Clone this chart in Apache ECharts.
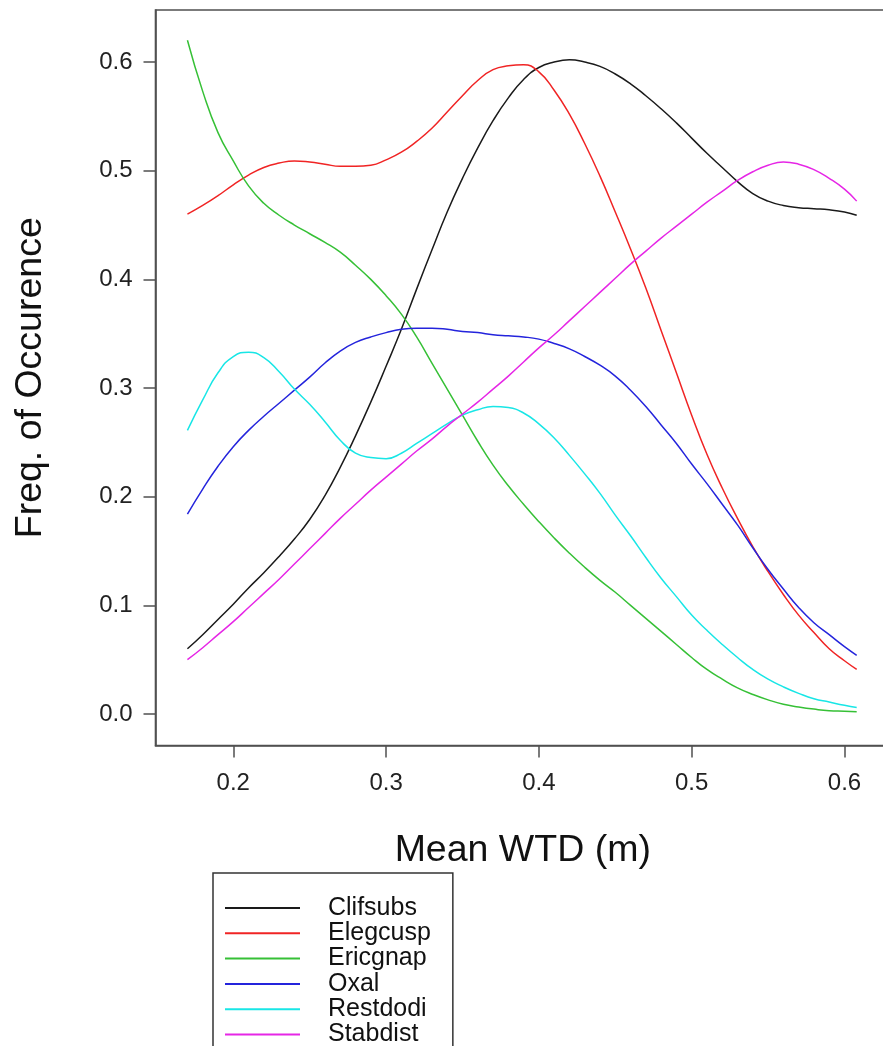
<!DOCTYPE html>
<html>
<head>
<meta charset="utf-8">
<script src="https://cdn.jsdelivr.net/npm/echarts@6/dist/echarts.min.js"></script>
<style>
html,body{margin:0;padding:0;background:#fff;overflow:hidden;width:883px;height:1046px;}
#chart{width:900px;height:1100px;}
</style>
</head>
<body>
<div id="chart"></div>
<script>
const xValues = [0.17,0.18,0.19,0.20,0.21,0.22,0.23,0.24,0.25,0.26,0.27,0.28,0.29,0.30,0.31,0.32,0.33,0.34,0.35,0.36,0.37,0.38,0.39,0.40,0.41,0.42,0.43,0.44,0.45,0.46,0.47,0.48,0.49,0.50,0.51,0.52,0.53,0.54,0.55,0.56,0.57,0.58,0.59,0.60,0.608];
const seriesNames = ['Clifsubs','Elegcusp','Ericgnap','Oxal','Restdodi','Stabdist'];
const clifsubs = [0.060,0.073,0.087,0.101,0.116,0.130,0.145,0.161,0.179,0.201,0.227,0.256,0.287,0.320,0.354,0.391,0.427,0.462,0.493,0.521,0.546,0.567,0.584,0.595,0.600,0.602,0.600,0.596,0.589,0.580,0.569,0.557,0.544,0.530,0.516,0.503,0.490,0.479,0.472,0.468,0.466,0.465,0.464,0.462,0.459];
const elegcusp = [0.460,0.468,0.477,0.487,0.496,0.503,0.507,0.509,0.508,0.506,0.504,0.504,0.505,0.510,0.517,0.527,0.539,0.554,0.569,0.583,0.593,0.5965,0.5975,0.591,0.574,0.552,0.525,0.495,0.462,0.428,0.392,0.353,0.314,0.275,0.239,0.208,0.180,0.154,0.131,0.110,0.091,0.075,0.060,0.049,0.041];
const ericgnap = [0.620,0.573,0.535,0.509,0.486,0.470,0.459,0.450,0.442,0.434,0.425,0.413,0.400,0.385,0.368,0.347,0.323,0.299,0.275,0.251,0.229,0.210,0.193,0.177,0.162,0.148,0.135,0.123,0.112,0.100,0.088,0.076,0.064,0.052,0.041,0.032,0.024,0.018,0.013,0.009,0.0065,0.0045,0.003,0.0025,0.002];
const oxal = [0.184,0.207,0.228,0.246,0.261,0.274,0.286,0.298,0.310,0.323,0.334,0.342,0.347,0.351,0.354,0.355,0.355,0.354,0.352,0.351,0.349,0.348,0.347,0.345,0.341,0.336,0.329,0.321,0.311,0.298,0.283,0.266,0.249,0.230,0.212,0.193,0.174,0.153,0.133,0.115,0.098,0.084,0.073,0.062,0.054];
const restdodi = [0.261,0.289,0.314,0.329,0.333,0.328,0.315,0.299,0.285,0.269,0.252,0.240,0.236,0.235,0.240,0.249,0.258,0.267,0.275,0.280,0.283,0.282,0.277,0.267,0.254,0.238,0.221,0.203,0.183,0.164,0.144,0.125,0.108,0.091,0.077,0.064,0.052,0.041,0.032,0.025,0.019,0.014,0.011,0.008,0.006];
const stabdist = [0.050,0.061,0.073,0.085,0.098,0.111,0.124,0.138,0.152,0.166,0.180,0.193,0.206,0.218,0.230,0.242,0.253,0.265,0.276,0.287,0.299,0.311,0.324,0.337,0.349,0.362,0.375,0.388,0.401,0.414,0.426,0.438,0.449,0.460,0.471,0.481,0.491,0.499,0.505,0.508,0.506,0.501,0.493,0.483,0.472];
const xTicks = [0.2,0.3,0.4,0.5,0.6];
const yTicks = [0.0,0.1,0.2,0.3,0.4,0.5,0.6];
const colors = ['#1a1a1a','#f02424','#36c036','#2424dc','#18e6e6','#e626e6'];
const allValues = [clifsubs, elegcusp, ericgnap, oxal, restdodi, stabdist];

const font = 'Liberation Sans, Arial, Helvetica, sans-serif';
const axisColor = '#505050';

const chart = echarts.init(document.getElementById('chart'), null, {renderer:'canvas'});
chart.setOption({
  animation: false,
  backgroundColor: '#fff',
  grid: {
    left: 155.5, top: 10, right: 10, bottom: 354.5,
    show: true, borderColor: axisColor, borderWidth: 1.6, backgroundColor: 'transparent',
    containLabel: false, outerBoundsMode: 'none'
  },
  legend: {
    orient: 'vertical',
    left: 213, top: 873,
    data: seriesNames,
    icon: 'rect',
    itemWidth: 75, itemHeight: 2,
    itemGap: 0.3,
    padding: [22.5, 22, 14, 12],
    borderColor: '#333', borderWidth: 1.5,
    backgroundColor: '#fff',
    selectedMode: false,
    textStyle: {fontFamily: font, fontSize: 25, color: '#111', lineHeight: 25, padding: [0,0,0,23]}
  },
  xAxis: {
    type: 'value', min: 0.1491, max: 0.6298,
    name: 'Mean WTD (m)', nameLocation: 'middle', nameGap: 86,
    nameTextStyle: {fontFamily: font, fontSize: 37.5, color: '#111'},
    axisLine: {show: true, onZero: false, lineStyle: {color: axisColor, width: 1.6}},
    axisTick: {show: true, length: 12, customValues: xTicks, lineStyle: {color: axisColor, width: 1.5}},
    axisLabel: {customValues: xTicks, margin: 26, fontFamily: font, fontSize: 24, color: '#222',
      formatter: v => v.toFixed(1)},
    splitLine: {show: false}
  },
  yAxis: {
    type: 'value', min: -0.029, max: 0.6479,
    name: 'Freq. of Occurence', nameLocation: 'middle', nameGap: 106, nameRotate: 90,
    nameTextStyle: {fontFamily: font, fontSize: 37.5, color: '#111'},
    axisLine: {show: true, onZero: false, lineStyle: {color: axisColor, width: 1.6}},
    axisTick: {show: true, length: 12, customValues: yTicks, lineStyle: {color: axisColor, width: 1.5}},
    axisLabel: {customValues: yTicks, margin: 23, fontFamily: font, fontSize: 24, color: '#222',
      formatter: v => v.toFixed(1)},
    splitLine: {show: false}
  },
  series: seriesNames.map((name, i) => ({
    name: name,
    type: 'line',
    smooth: 0.5,
    symbol: 'none',
    color: colors[i],
    lineStyle: {color: colors[i], width: 1.5},
    data: xValues.map((x, j) => [x, allValues[i][j]])
  }))
});
</script>
</body>
</html>
